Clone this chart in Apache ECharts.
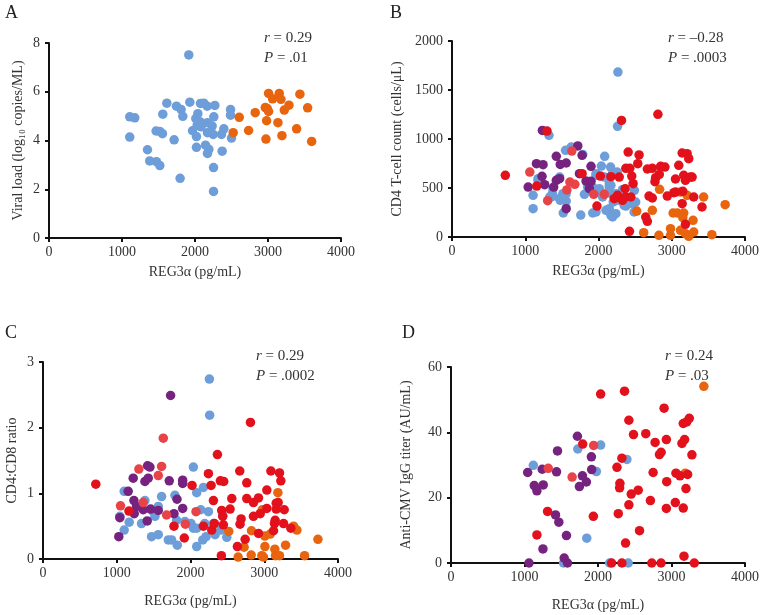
<!DOCTYPE html>
<html><head><meta charset="utf-8">
<script src="https://cdn.jsdelivr.net/npm/echarts@6/dist/echarts.min.js"></script>
<style>html,body{margin:0;padding:0;background:#fff}#c{width:762px;height:615px}</style>
</head><body><div id="c"></div>
<script>
// ---- Data (x = REG3α pg/mL) ----
const xTicks = [0, 1000, 2000, 3000, 4000];
// Panel A: viral load
const aBlue = [[1915,7.51],[1106,4.97],[1175,4.93],[1106,4.14],[1614,5.53],[1559,5.08],[1746,5.41],[1810,5.27],[1833,4.99],[1929,5.57],[2075,5.52],[2121,5.53],[2167,5.41],[2272,5.44],[2039,5.10],[2011,4.90],[2066,4.77],[2030,4.63],[1966,4.40],[2020,4.16],[2084,4.56],[2171,4.73],[2235,4.59],[2258,4.97],[2171,4.32],[2249,4.25],[2363,4.25],[2395,4.48],[2487,5.27],[2487,5.04],[2500,4.10],[1467,4.39],[1518,4.37],[1554,4.28],[1714,4.03],[1349,3.62],[1380,3.16],[1472,3.13],[1518,2.97],[2020,3.72],[2144,3.81],[2190,3.64],[2171,3.47],[2372,3.56],[2254,2.89],[1796,2.45],[2254,1.91]];
const aOrange = [[3008,5.93],[3154,5.93],[3063,5.71],[3177,5.69],[3437,5.90],[3287,5.45],[3543,5.34],[3223,5.25],[2963,5.35],[2990,5.31],[3008,5.19],[2825,5.14],[2606,4.95],[2981,4.81],[3136,4.73],[2523,4.32],[2734,4.41],[3392,4.48],[3191,4.20],[2972,4.06],[3598,3.96]];
// Panel B: CD4 count
const bBlue = [[2265,1683],[2260,1129],[1324,1037],[1550,884],[1632,901],[1627,918],[1785,843],[2084,823],[2039,724],[2165,714],[2255,663],[1966,646],[2079,612],[1175,578],[1175,595],[1469,612],[1559,442],[1370,442],[1333,408],[1107,425],[1107,289],[1514,442],[1478,374],[1559,367],[1519,245],[1758,224],[1808,435],[1921,245],[1966,255],[2011,493],[2057,442],[2147,510],[2169,442],[2102,272],[2147,289],[2169,221],[2237,238],[2201,357],[2260,374],[2328,408],[2373,316],[2237,442],[2490,476],[2508,357],[2486,255],[2328,483],[1921,510],[2147,544],[2147,459],[2056,408],[2192,204],[2350,323],[2395,392],[2463,340],[1356,408],[1378,493],[1469,392],[1852,510],[1988,459],[1966,629],[2170,527],[2192,646]];
const bPurple = [[1234,1088],[1153,748],[1243,738],[1424,823],[1478,741],[1559,755],[1717,929],[1776,833],[1898,721],[1229,619],[1265,534],[1040,510],[1424,578],[1469,595],[1388,510],[1740,646],[1830,571],[1898,568],[1875,493],[1559,289]];
const bLightRed = [[1062,663],[1306,371],[1636,877],[1609,561],[1677,537],[1568,480],[1935,435],[2079,435]];
const bRed = [[728,629],[1157,520],[1297,1081],[1776,646],[1979,316],[2025,622],[2169,615],[2283,612],[2314,1190],[2405,867],[2554,837],[2373,701],[2427,701],[2454,622],[2472,544],[2536,748],[2667,694],[2735,701],[2780,605],[2771,564],[2848,721],[2907,714],[2830,639],[2811,1252],[3096,731],[3142,857],[3210,850],[3232,799],[3164,629],[3187,578],[3278,612],[3051,592],[3029,452],[2939,418],[3151,466],[3142,340],[3300,408],[3413,306],[2690,418],[2735,398],[2645,204],[2667,160],[2423,58],[2328,374],[2373,408],[2260,425],[2215,391],[2364,493],[2441,408],[3187,129],[3051,459],[3254,612]];
const bOrange = [[2834,486],[2522,265],[2735,272],[2617,44],[2825,17],[2983,85],[2983,17],[3119,459],[3019,245],[3074,245],[3164,245],[3210,425],[3151,197],[3291,170],[3435,408],[3729,330],[3548,24],[3119,68],[3187,34],[3232,7],[3300,51]];
// Panel C: CD4:CD8 ratio
const cBlue = [[2256,2.74],[2260,2.19],[2039,1.40],[2084,1.01],[2175,1.09],[1789,0.97],[1608,0.95],[1382,0.89],[1101,1.03],[1042,0.65],[1169,0.56],[1101,0.44],[1336,0.54],[1495,0.72],[1518,0.65],[1563,0.80],[1812,0.59],[1925,0.57],[2007,0.54],[2039,0.47],[2084,0.47],[2139,0.75],[2193,0.54],[2243,0.72],[2311,0.54],[2411,0.44],[2333,0.37],[2211,0.34],[2166,0.29],[2084,0.19],[1699,0.29],[1744,0.29],[1821,0.21],[1472,0.34],[1563,0.37],[2492,0.33],[2437,0.66]];
const cPurple = [[1730,2.49],[1418,1.42],[1450,1.40],[1223,1.23],[1155,1.03],[1382,1.18],[1427,1.23],[1712,1.19],[1894,1.20],[1894,1.15],[1233,0.89],[1268,0.80],[1237,0.69],[1459,0.76],[1563,0.74],[1817,0.91],[1894,0.77],[1776,0.69],[1413,0.58],[1042,0.63],[1028,0.34],[1359,0.75]];
const cLightRed = [[1631,1.84],[1300,1.37],[1608,1.41],[1563,1.27],[1051,0.81],[1359,0.86],[1676,0.67],[2075,0.72],[1930,0.53]];
const cRed = [[716,1.14],[1165,0.73],[1776,0.50],[1916,0.32],[2021,1.12],[2243,1.30],[2279,1.12],[2365,1.59],[2405,1.19],[2451,1.18],[2311,0.89],[2175,0.50],[2288,0.44],[2324,0.54],[2423,0.74],[2437,0.65],[2560,0.92],[2537,0.76],[2446,0.52],[2419,0.05],[2668,1.34],[2763,1.16],[2813,2.08],[2763,0.92],[2854,0.86],[2922,0.93],[2945,0.69],[2686,0.61],[2672,0.53],[2636,0.19],[2741,0.30],[2922,0.39],[3035,1.05],[3090,1.34],[3207,1.31],[3225,1.19],[3035,0.77],[3162,0.85],[3189,0.86],[3271,0.75],[3162,0.76],[3148,0.59],[3139,0.54],[3126,0.43],[3262,0.54],[3361,0.47],[2854,0.65]];
const cOrange = [[3185,1.01],[2972,0.75],[2827,0.43],[2519,0.42],[2646,0.03],[2727,0.18],[2823,0.06],[3009,0.19],[3008,0.35],[3081,0.38],[2967,0.05],[2990,0.03],[3144,0.15],[3153,0.05],[3207,0.05],[3289,0.21],[3398,0.50],[3443,0.44],[3728,0.30],[3547,0.05]];
// Panel D: anti-CMV IgG titer
const dPurple = [[1043,27.7],[1133,23.7],[1169,22.1],[1255,23.9],[1241,28.7],[1436,27.9],[1449,34.3],[1720,38.8],[1788,26.7],[1747,23.4],[1842,24.8],[1910,32.5],[1914,28.6],[1422,14.7],[1467,12.5],[1571,8.4],[1251,4.3],[1540,1.5],[1061,0],[1585,0]];
const dBlue = [[1120,29.9],[1725,34.9],[2036,36.1],[2393,31.7],[1978,28.0],[1847,7.6],[1531,0],[2158,0],[2411,0]];
const dLightRed = [[1323,29.0],[1648,26.3],[1941,36.0]];
const dRed = [[1792,36.4],[1314,15.8],[1169,8.6],[1937,14.3],[2036,51.7],[2361,52.6],[2420,43.7],[2483,39.3],[2325,32.1],[2258,29.3],[2298,24.4],[2294,23.0],[2452,21.1],[2547,22.3],[2420,17.8],[2276,15.1],[2565,9.9],[2375,6.1],[2650,39.6],[2777,36.9],[2836,33.2],[2859,33.9],[2750,27.7],[2713,19.1],[2899,47.4],[2930,37.8],[2935,24.9],[2930,16.7],[3052,18.5],[3061,27.5],[3115,26.7],[3219,27.1],[3142,36.6],[3178,37.8],[3160,42.7],[3206,43.2],[3242,44.3],[3278,33.1],[3197,22.8],[3160,16.8],[3170,2.1],[2185,0],[2325,0],[2732,0],[2858,0],[3310,0]];
const dOrange = [[3440,54.1],[3188,27.5]];

const yMax = [8, 2000, 3, 60];
const yInterval = [2, 500, 1, 20];
const yNames = ['Viral load (log₁₀ copies/ML)', 'CD4 T-cell count (cells/μL)', 'CD4:CD8 ratio', 'Anti-CMV IgG titer (AU/mL)'];
const xName = 'REG3α (pg/mL)';
const panelLetters = ['A', 'B', 'C', 'D'];
const rVals = ['0.29', '–0.28', '0.29', '0.24'];
const pVals = ['.01', '.0003', '.0002', '.03'];

// ---- Styling ----
const FONT = 'Liberation Serif';
const COL = {blue:'#6d9ed9', purple:'#76227f', orange:'#e8640f', red:'#e3111b', lightred:'#e84448'};
const grids = [
  {left:49, top:43, width:292, height:195},
  {left:452, top:41, width:295, height:196},
  {left:43, top:362, width:295, height:197},
  {left:451, top:367, width:295, height:196}
];
const yNameGap = [24, 48, 24, 38];
const xNameGap = [27, 27, 35, 35];

const axisLine = {lineStyle:{color:'#111', width:2}};
const axisTick = {show:true, length:4, lineStyle:{color:'#111', width:2}};
const labelStyle = {fontFamily:FONT, fontSize:14, color:'#333', formatter:(v)=>String(v)};

const xAxis = grids.map((g,i)=>({
  type:'value', gridIndex:i, min:0, max:4000, interval:1000,
  axisLine, axisTick, splitLine:{show:false},
  axisLabel:Object.assign({margin:7}, labelStyle),
  name:xName, nameLocation:'middle', nameGap:xNameGap[i],
  nameTextStyle:{fontFamily:FONT, fontSize:14, color:'#333'}
}));
const yAxis = grids.map((g,i)=>({
  type:'value', gridIndex:i, min:0, max:yMax[i], interval:yInterval[i],
  axisLine:Object.assign({onZero:false}, axisLine), axisTick, splitLine:{show:false},
  axisLabel:Object.assign({margin:9}, labelStyle),
  name:yNames[i], nameLocation:'middle', nameGap:yNameGap[i],
  nameTextStyle:{fontFamily:FONT, fontSize:14, color:'#333'}
}));

function sc(data, color, i){
  return {type:'scatter', xAxisIndex:i, yAxisIndex:i, data, symbolSize:9.5,
    itemStyle:{color, opacity:1}, silent:true, animation:false};
}
const series = [
  sc(aBlue, COL.blue, 0), sc(aOrange, COL.orange, 0),
  sc(bBlue, COL.blue, 1), sc(bPurple, COL.purple, 1), sc(bOrange, COL.orange, 1), sc(bLightRed, COL.lightred, 1), sc(bRed, COL.red, 1),
  sc(cBlue, COL.blue, 2), sc(cPurple, COL.purple, 2), sc(cOrange, COL.orange, 2), sc(cLightRed, COL.lightred, 2), sc(cRed, COL.red, 2),
  sc(dBlue, COL.blue, 3), sc(dPurple, COL.purple, 3), sc(dOrange, COL.orange, 3), sc(dLightRed, COL.lightred, 3), sc(dRed, COL.red, 3)
];

const letterPos = [[5,4],[390,4],[5,324],[402,324]];
const annPos = [[264,28],[668,28],[256,346],[665,346]];
const graphic = [];
panelLetters.forEach((L,i)=>{
  graphic.push({type:'text', left:letterPos[i][0], top:letterPos[i][1],
    style:{text:L, fontFamily:FONT, fontSize:18, fill:'#222'}});
  graphic.push({type:'text', left:annPos[i][0], top:annPos[i][1],
    style:{text:'{i|r} = '+rVals[i]+'\n{i|P} = '+pVals[i], fontFamily:FONT, fontSize:15, fill:'#333', lineHeight:20,
      rich:{i:{fontStyle:'italic', fontFamily:FONT, fontSize:15, fill:'#333'}}}});
});

const chart = echarts.init(document.getElementById('c'), null, {renderer:'canvas'});
chart.setOption({
  backgroundColor:'#fff', animation:false,
  grid:grids.map(g=>Object.assign({containLabel:false}, g)),
  xAxis, yAxis, series, graphic
});
</script></body></html>
